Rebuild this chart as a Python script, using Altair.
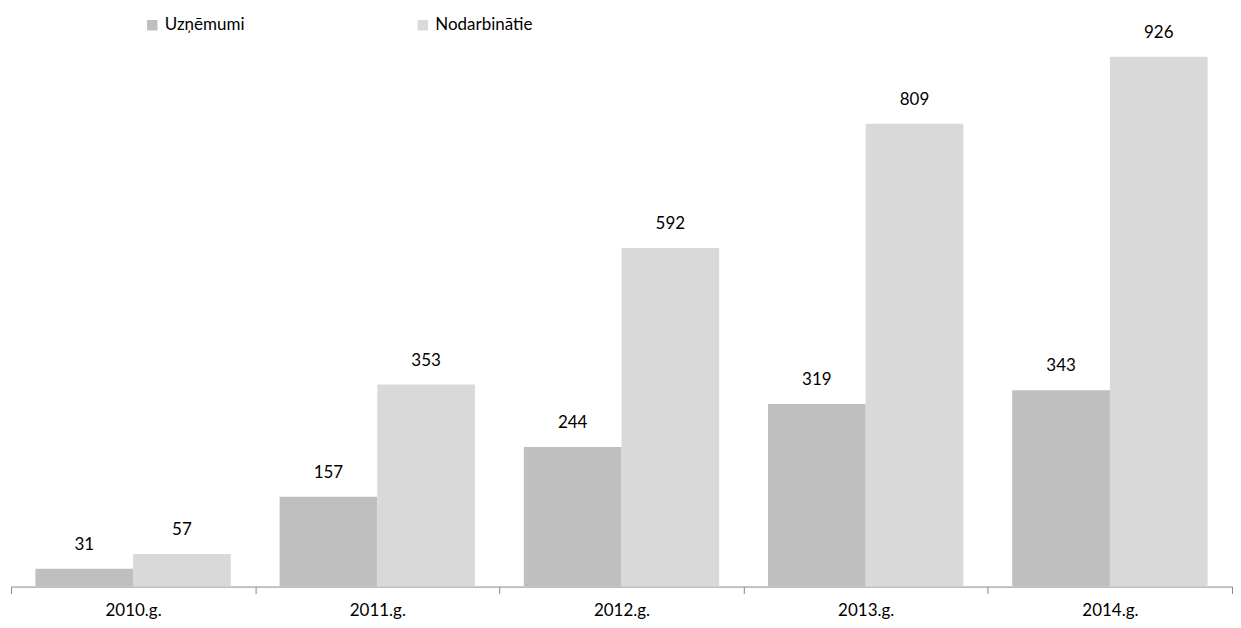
import altair as alt
import pandas as pd

years = ["2010.g.", "2011.g.", "2012.g.", "2013.g.", "2014.g."]
series = ["Uzņēmumi", "Nodarbinātie"]
uznemumi = [31, 157, 244, 319, 343]
nodarbinatie = [57, 353, 592, 809, 926]

rows = []
for y, a, b in zip(years, uznemumi, nodarbinatie):
    rows.append({"year": y, "series": series[0], "value": a})
    rows.append({"year": y, "series": series[1], "value": b})
df = pd.DataFrame(rows)

FONT = "Lato"

base = alt.Chart(df).encode(
    x=alt.X("year:N", sort=years, title=None,
            scale=alt.Scale(paddingInner=0, paddingOuter=0),
            axis=alt.Axis(labelAngle=0, tickBand="extent", domainColor="#888888",
                          tickColor="#888888", tickSize=7, labelFontSize=17,
                          labelFont=FONT, labelColor="#000000", labelPadding=9,
                          grid=False)),
    xOffset=alt.XOffset("series:N", sort=series,
                        scale=alt.Scale(paddingInner=0, paddingOuter=0.25)),
    y=alt.Y("value:Q", axis=None, scale=alt.Scale(domain=[0, 1000], nice=False)),
)

bars = base.mark_bar().encode(
    color=alt.Color("series:N", sort=series,
                    scale=alt.Scale(domain=series, range=["#bfbfbf", "#d9d9d9"]),
                    legend=alt.Legend(title=None, orient="none", direction="horizontal",
                                      legendX=133, legendY=2, symbolType="square",
                                      symbolSize=110, symbolStrokeWidth=0,
                                      labelFont=FONT, labelFontSize=17,
                                      labelColor="#000000", columnPadding=170,
                                      labelOffset=4))
)

labels = base.mark_text(baseline="alphabetic", dy=-19, font=FONT, fontSize=17,
                        color="#000000").encode(text="value:Q")

chart = (bars + labels).properties(
    width=1223, height=573,
    padding={"left": 2, "top": 6, "right": 0, "bottom": 0},
).configure_view(stroke=None)

chart.save("out.html", embed_options={"renderer": "svg", "actions": False})
